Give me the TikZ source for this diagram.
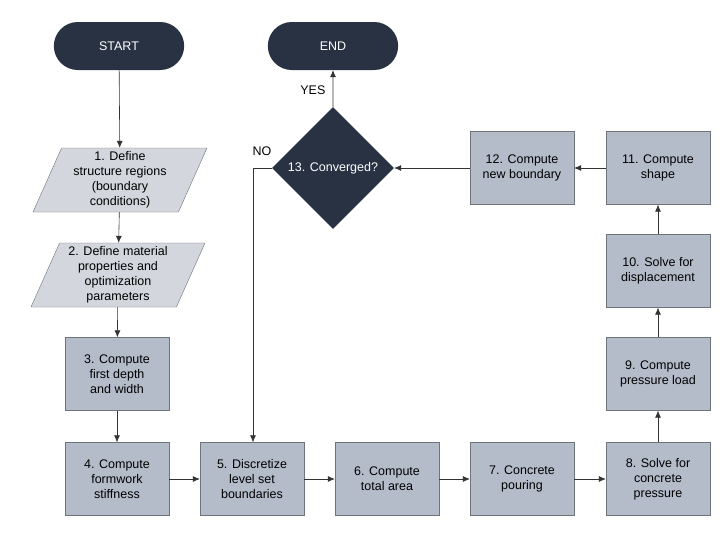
\documentclass[tikz,border=0pt]{standalone}
\usepackage{fontspec}
\setmainfont{Liberation Sans}
\usetikzlibrary{arrows.meta, shapes.geometric, shapes.misc}
\definecolor{navy}{HTML}{283243}
\definecolor{boxgray}{HTML}{B4BCCA}
\definecolor{iogray}{HTML}{D3D7DD}
\definecolor{edgegray}{HTML}{6E747C}

\begin{document}
\begin{tikzpicture}[x=1pt, y=-1pt, >={Latex[length=7pt, width=6pt]},
  every node/.style={font=\fontsize{12.5}{15}\selectfont, align=center},
  terminal/.style={rounded rectangle, fill=navy, text=white, minimum width=137pt, minimum height=48pt},
  iobox/.style={trapezium, trapezium left angle=64, trapezium right angle=116, trapezium stretches body, draw=edgegray, fill=iogray, minimum width=174pt, minimum height=64pt, inner xsep=0pt, inner ysep=1pt},
  procbox/.style={rectangle, draw=edgegray, fill=boxgray, minimum width=104pt, minimum height=73pt},
  decision/.style={diamond, fill=navy, text=white, minimum width=122pt, minimum height=122pt, inner sep=0pt},
  link/.style={->, draw=black!80, line width=0.6pt}]
  \useasboundingbox[fill=white] (0,0) rectangle (724,533);
  \node[terminal] (start) at (119,46) {START};
  \node[terminal] (end) at (333,46) {END};
  \node[iobox] (def) at (120,180) {1. Define\\structure regions\\(boundary\\conditions)};
  \node[iobox] (mat) at (118,275) {2. Define material\\properties and\\optimization\\parameters};
  \node[procbox] (dw) at (117,374) {3. Compute\\first depth\\and width};
  \node[procbox] (stiff) at (117,479) {4. Compute\\formwork\\stiffness};
  \node[procbox] (lset) at (252,479) {5. Discretize\\level set\\boundaries};
  \node[procbox] (area) at (387,479) {6. Compute\\total area};
  \node[procbox] (pour) at (522,479) {7. Concrete\\pouring};
  \node[procbox] (cpres) at (658,479) {8. Solve for\\concrete\\pressure};
  \node[procbox] (load) at (658,374) {9. Compute\\pressure load};
  \node[procbox] (disp) at (658,271) {10. Solve for\\displacement};
  \node[procbox] (shape) at (658,168) {11. Compute\\shape};
  \node[procbox] (bound) at (522,168) {12. Compute\\new boundary};
  \node[decision] (conv) at (333,168) {13. Converged?};
  \coordinate (bend) at (253,168);
  % flow
  \draw[link] (start) -- (def);
  \draw[link] (def) -- (mat);
  \draw[link] (mat) -- (dw);
  \draw[link] (dw) -- (stiff);
  \draw[link] (stiff) -- (lset);
  \draw[link] (lset) -- (area);
  \draw[link] (area) -- (pour);
  \draw[link] (pour) -- (cpres);
  \draw[link] (cpres) -- (load);
  \draw[link] (load) -- (disp);
  \draw[link] (disp) -- (shape);
  \draw[link] (shape) -- (bound);
  \draw[link] (bound) -- (conv);
  \draw[link] (conv) -- node[pos=0.45, left=4pt] {YES} (end);
  \draw[link] (conv.west) -- (bend) -- (lset.north -| bend);
  \node (no) at (262,151) {NO};
\end{tikzpicture}
\end{document}
